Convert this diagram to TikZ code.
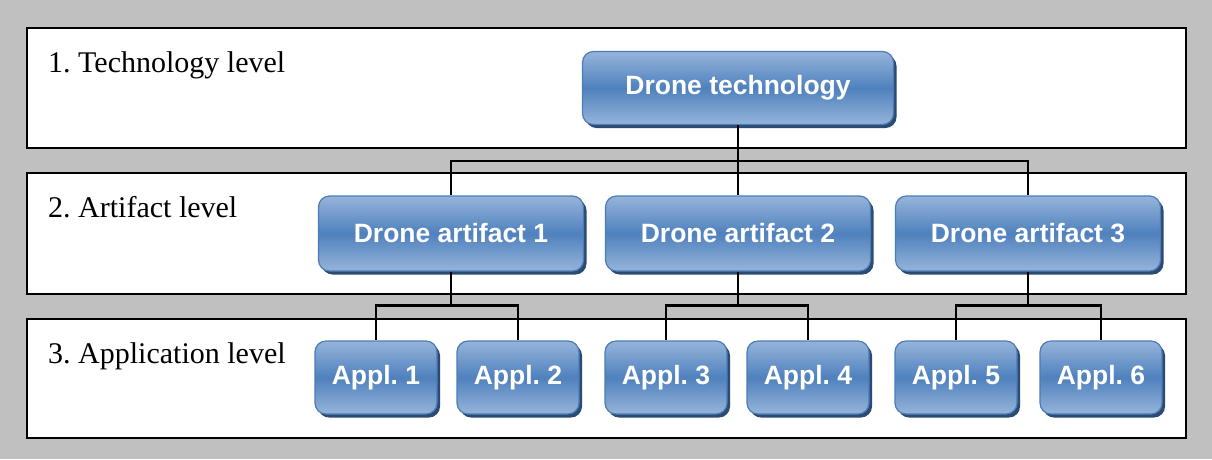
\documentclass[tikz,border=0pt]{standalone}
\usepackage{fontspec}
\setmainfont{Liberation Serif}
\newfontfamily\boxfont{Liberation Sans}
\usetikzlibrary{shadows}
\definecolor{bggray}{HTML}{C0C0C0}
\definecolor{lightblue}{HTML}{96B4DA}
\definecolor{midblue}{HTML}{4F81BD}
\definecolor{edgeblue}{HTML}{4A7CB8}
\definecolor{shadowblue}{HTML}{2C4B72}
\tikzset{
  levelbox/.style={draw=black, line width=1.8pt, fill=white, anchor=north west, inner sep=0pt},
  leveltext/.style={anchor=base west, inner sep=0pt, font=\fontsize{30}{36}\selectfont},
  dronebox/.style={rounded corners=11pt, draw=edgeblue, line width=1.2pt,
    top color=lightblue, bottom color=lightblue, middle color=midblue,
    general shadow={fill=shadowblue, shadow xshift=3pt, shadow yshift=-3.5pt},
    text=white, inner sep=0pt,
    font=\boxfont\bfseries\fontsize{26.5}{30}\selectfont},
  artbox/.style={dronebox, minimum width=265pt, minimum height=75pt},
  applbox/.style={dronebox, minimum width=122pt, minimum height=73pt},
  conn/.style={draw=black, line width=2.4pt}
}
\begin{document}
\frenchspacing
\begin{tikzpicture}[x=1pt,y=-1pt]
\fill[bggray] (0,0) rectangle (1212,459);
\useasboundingbox (0,0) rectangle (1212,459);

\node[levelbox, minimum width=1159pt, minimum height=120pt] (L1) at (26,27) {};
\node[levelbox, minimum width=1159pt, minimum height=121pt] (L2) at (26,172) {};
\node[levelbox, minimum width=1159pt, minimum height=119pt] (L3) at (26,318) {};

\node[leveltext] (t1) at (48,72) {1. Technology level};
\node[leveltext] (t2) at (48,217) {2. Artifact level};
\node[leveltext] (t3) at (48,363) {3. Application level};

\node[dronebox, minimum width=311pt, minimum height=73pt] (tech) at (738,88) {Drone technology};

\node[artbox] (a1) at (451,233.5) {Drone artifact 1};
\node[artbox] (a2) at (738,233.5) {Drone artifact 2};
\node[artbox] (a3) at (1028,233.5) {Drone artifact 3};

\node[applbox] (p1) at (376,377.5) {Appl. 1};
\node[applbox] (p2) at (518,377.5) {Appl. 2};
\node[applbox] (p3) at (666,377.5) {Appl. 3};
\node[applbox] (p4) at (808,377.5) {Appl. 4};
\node[applbox] (p5) at (956,377.5) {Appl. 5};
\node[applbox] (p6) at (1101,377.5) {Appl. 6};

\draw[conn] (tech.south) -- ++(0,36) -| (a1.north);
\draw[conn] (tech.south) -- ++(0,36) -| (a3.north);
\draw[conn] (tech.south) -- (a2.north);

\draw[conn] (a1.south) -- ++(0,34) -| (p1.north);
\draw[conn] (a1.south) -- ++(0,34) -| (p2.north);
\draw[conn] (a2.south) -- ++(0,34) -| (p3.north);
\draw[conn] (a2.south) -- ++(0,34) -| (p4.north);
\draw[conn] (a3.south) -- ++(0,34) -| (p5.north);
\draw[conn] (a3.south) -- ++(0,34) -| (p6.north);
\end{tikzpicture}
\end{document}
